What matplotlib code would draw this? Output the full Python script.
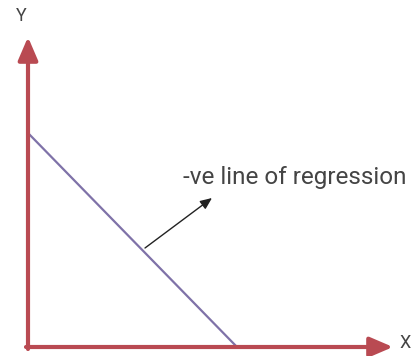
import matplotlib.pyplot as plt

# data units: origin at the axes crossing
x_axis_len = 365
y_axis_len = 310
reg_x = [0, 209]
reg_y = [214, 0]
pointer_start = (117, 99)
pointer_end = (184, 149)
label = '-ve line of regression'

red = '#b94a52'
purple = '#7f72a8'

fig = plt.figure(figsize=(4.19, 3.56), dpi=100)
ax = fig.add_axes([0, 0, 1, 1])
ax.set_xlim(-28, 391)
ax.set_ylim(-9, 347)
ax.axis('off')

# regression line
ax.plot(reg_x, reg_y, color=purple, lw=1.6, solid_capstyle='butt', zorder=2)

# axes with arrows
ax.annotate('', xy=(x_axis_len, 0), xytext=(-2, 0),
            arrowprops=dict(arrowstyle='-|>,head_length=1.4,head_width=0.6',
                            color=red, lw=3.0, shrinkA=0, shrinkB=0))
ax.annotate('', xy=(0, y_axis_len), xytext=(0, -2),
            arrowprops=dict(arrowstyle='-|>,head_length=1.4,head_width=0.6',
                            color=red, lw=3.0, shrinkA=0, shrinkB=0))
ax.text(-7, 331, 'Y', fontsize=13, color='#444444',
        ha='center', va='center', family='Roboto')
ax.text(377, 4, 'X', fontsize=13, color='#444444',
        ha='center', va='center', family='Roboto')

# pointer to the line
ax.annotate('', xy=pointer_end, xytext=pointer_start,
            arrowprops=dict(arrowstyle='-|>,head_length=0.7,head_width=0.3',
                            color='#222222', lw=1.0, shrinkA=0, shrinkB=0))
ax.text(155, 163, label, fontsize=17.5, color='#444444',
        ha='left', va='baseline', family='Roboto')

fig.savefig('out.png', dpi=100)
